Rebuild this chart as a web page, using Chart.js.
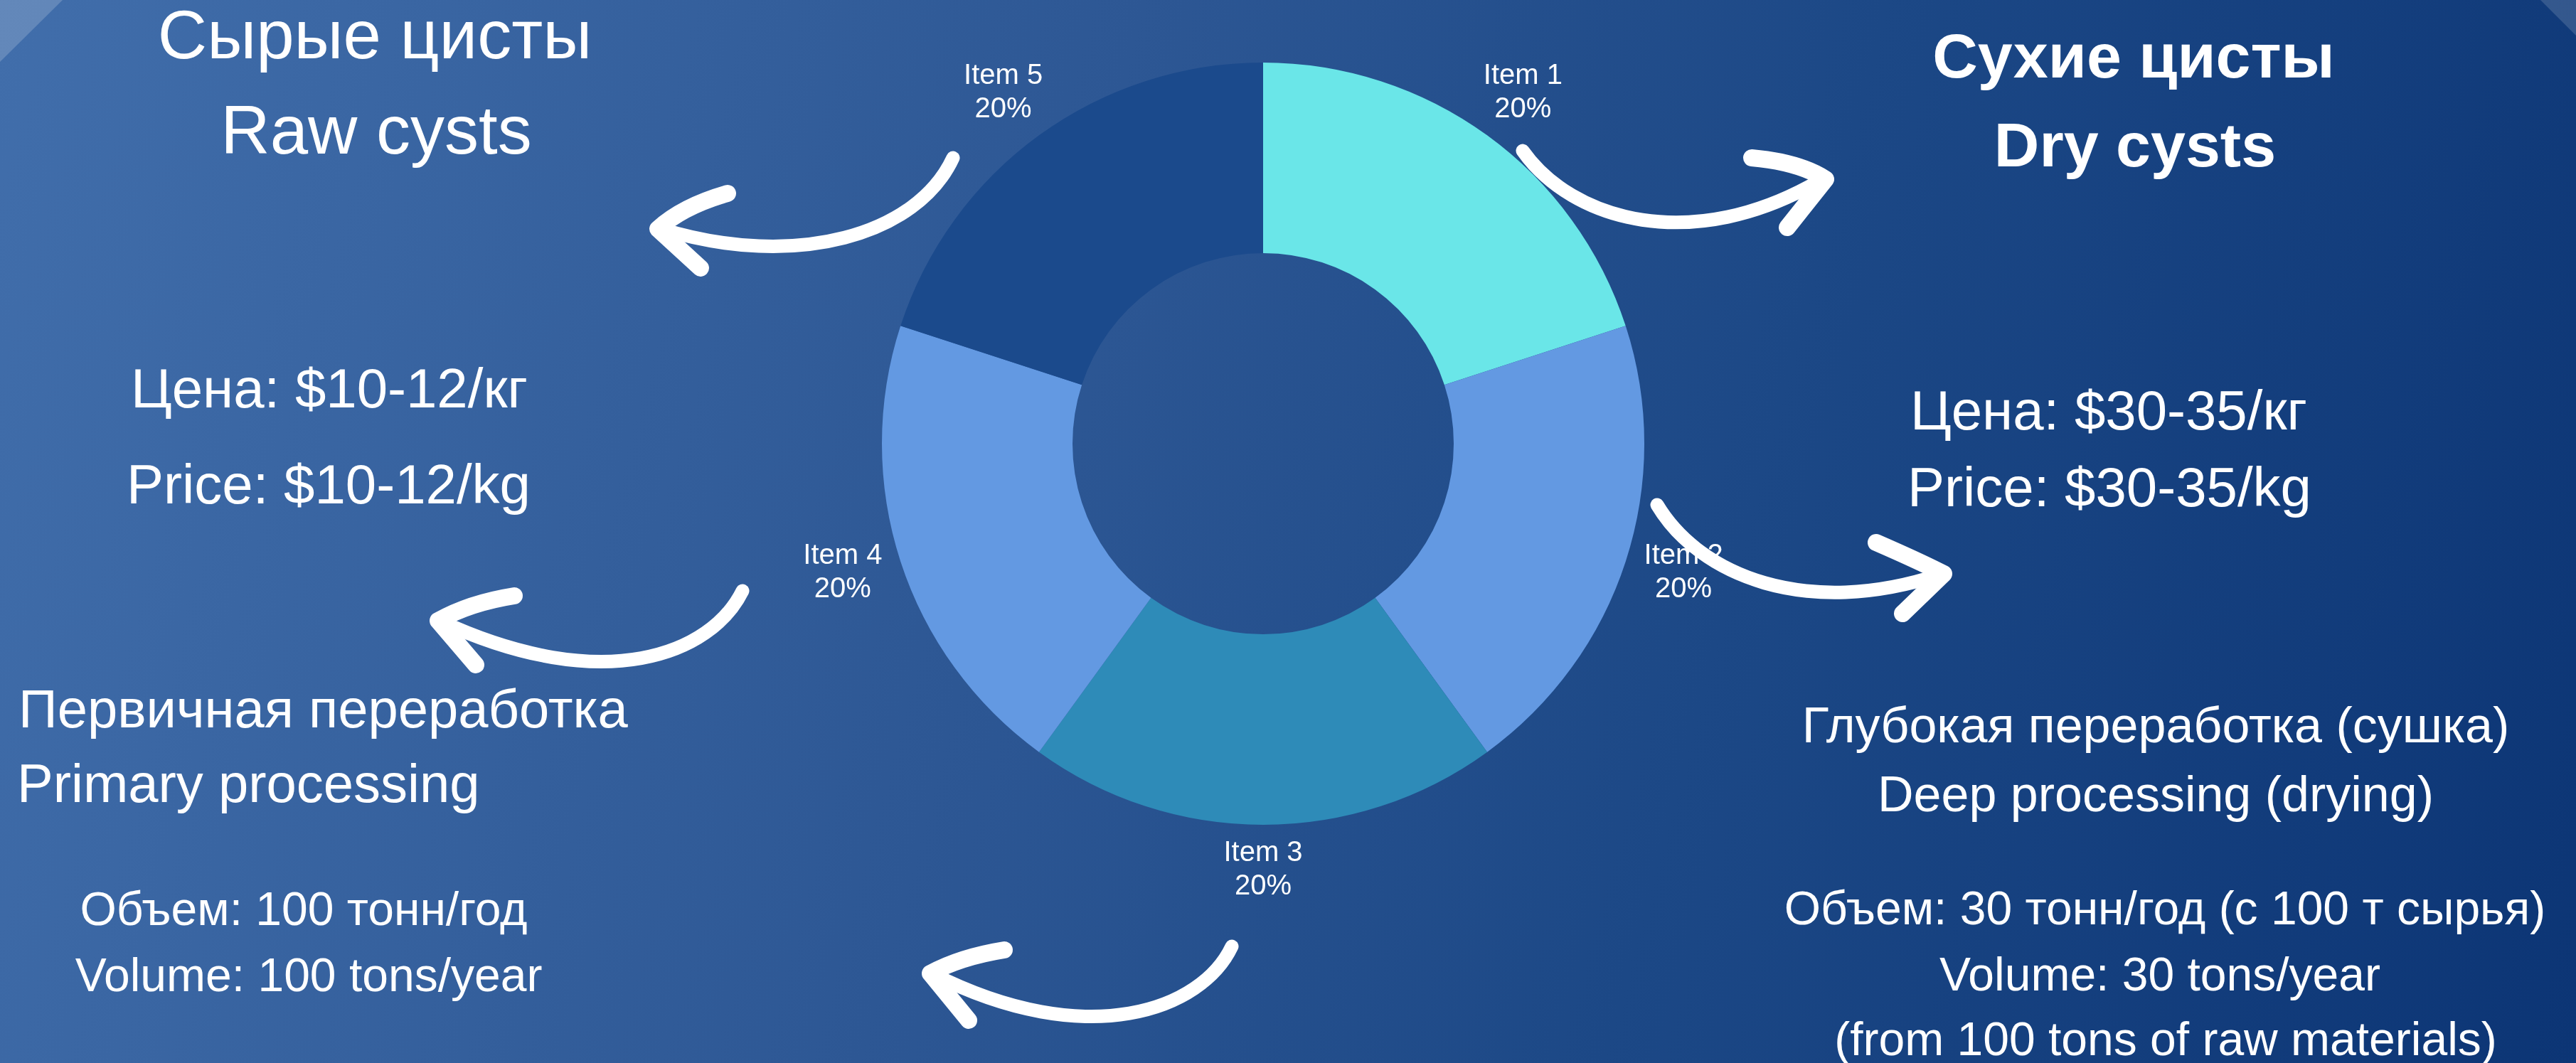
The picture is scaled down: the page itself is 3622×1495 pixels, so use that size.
<!DOCTYPE html>
<html>
<head>
<meta charset="utf-8">
<script src="https://cdn.jsdelivr.net/npm/chart.js@4.4.1/dist/chart.umd.min.js"></script>
<style>
html, body { margin: 0; padding: 0; }
body {
    width: 3622px; height: 1495px; overflow: hidden; position: relative;
    background: linear-gradient(105deg, #416eab 0%, #2d5794 40%, #1c4886 66%, #0c3575 100%);
    font-family: 'Liberation Sans', Arial, sans-serif;
}
#wrap { position: absolute; left: 0; top: 0; width: 3622px; height: 1495px; }
#over { position: absolute; left: 0; top: 0; pointer-events: none; }
#over text { fill: #ffffff; font-family: 'Liberation Sans', Arial, sans-serif; }
.seta { fill: none; stroke: #ffffff; stroke-linecap: round; stroke-linejoin: round; }
</style>
</head>
<body>
<div id="wrap"><canvas id="graficoCistas"></canvas></div>

<svg id="over" width="3622" height="1495" viewBox="0 0 3622 1495">
    <!-- cantos claros -->
    <polygon points="0,0 88,0 0,87" fill="rgba(255,255,255,0.18)"/>
    <polygon points="3572,0 3622,0 3622,50" fill="rgba(255,255,255,0.15)"/>

    <!-- lado esquerdo -->
    <text x="527" y="82" font-size="96" text-anchor="middle">Сырые цисты</text>
    <text x="529" y="216" font-size="96" text-anchor="middle">Raw cysts</text>
    <text x="184" y="573" font-size="78">Цена: $10-12/кг</text>
    <text x="178" y="708" font-size="78">Price: $10-12/kg</text>
    <text x="26" y="1023" font-size="76">Первичная переработка</text>
    <text x="24" y="1128" font-size="76">Primary processing</text>
    <text x="427" y="1301" font-size="66" text-anchor="middle">Объем: 100 тонн/год</text>
    <text x="434" y="1394" font-size="66" text-anchor="middle">Volume: 100 tons/year</text>

    <!-- lado direito -->
    <text x="3000" y="109" font-size="88" font-weight="bold" text-anchor="middle">Сухие цисты</text>
    <text x="3002" y="234" font-size="88" font-weight="bold" text-anchor="middle">Dry cysts</text>
    <text x="2686" y="604" font-size="78">Цена: $30-35/кг</text>
    <text x="2682" y="712" font-size="78">Price: $30-35/kg</text>
    <text x="3031" y="1044" font-size="70" text-anchor="middle">Глубокая переработка (сушка)</text>
    <text x="3031" y="1141" font-size="70" text-anchor="middle">Deep processing (drying)</text>
    <text x="3044" y="1300" font-size="66" text-anchor="middle">Объем: 30 тонн/год (с 100 т сырья)</text>
    <text x="3037" y="1393" font-size="66" text-anchor="middle">Volume: 30 tons/year</text>
    <text x="3045" y="1484" font-size="66" text-anchor="middle">(from 100 tons of raw materials)</text>

    <!-- setas -->
    <path class="seta" stroke-width="19" d="M2141,212 C2210,310 2380,360 2562,252"/>
    <path class="seta" stroke-width="24" d="M2463,222 Q2530,228 2567,252 L2513,320"/>

    <path class="seta" stroke-width="19" d="M2330,710 C2390,810 2540,870 2728,808"/>
    <path class="seta" stroke-width="24" d="M2638,763 Q2700,790 2733,807 L2675,863"/>

    <path class="seta" stroke-width="19" d="M1340,222 C1290,330 1120,380 930,322"/>
    <path class="seta" stroke-width="24" d="M1023,272 Q960,290 925,322 L985,377"/>

    <path class="seta" stroke-width="19" d="M1044,831 C1000,920 850,980 620,874"/>
    <path class="seta" stroke-width="24" d="M723,838 Q660,848 616,873 L669,935"/>

    <path class="seta" stroke-width="19" d="M1732,1331 C1690,1420 1530,1480 1312,1370"/>
    <path class="seta" stroke-width="24" d="M1412,1336 Q1350,1346 1308,1369 L1362,1435"/>
</svg>

<script>
// Dados do gráfico
var rotulos = ['Item 1', 'Item 2', 'Item 3', 'Item 4', 'Item 5'];
var valores = [20, 20, 20, 20, 20];
var cores = ['#6ae6e8', '#6399e2', '#2e8bb8', '#6399e2', '#1b4a8c'];

// Rótulos fora das fatias: "Item N" + percentual
var rotulosFatias = {
    id: 'rotulosFatias',
    afterDatasetsDraw: function (chart) {
        var ctx = chart.ctx;
        var meta = chart.getDatasetMeta(0);
        var total = valores.reduce(function (a, b) { return a + b; }, 0);
        ctx.save();
        ctx.fillStyle = '#ffffff';
        ctx.font = '40px "Liberation Sans", Arial, sans-serif';
        ctx.textAlign = 'center';
        ctx.textBaseline = 'middle';
        meta.data.forEach(function (arc, i) {
            var p = arc.getProps(['x', 'y', 'startAngle', 'endAngle', 'outerRadius'], true);
            var meio = (p.startAngle + p.endAngle) / 2;
            var cx = Math.cos(meio), sy = Math.sin(meio);
            var w = ctx.measureText(rotulos[i]).width;
            var h = 76;
            var x = p.x + cx * (p.outerRadius + 30) + cx * w / 2;
            var y = p.y + sy * (p.outerRadius + 30) + sy * h / 2 - 5;
            ctx.fillText(rotulos[i], x, y - 23.5);
            ctx.fillText(Math.round(valores[i] / total * 100) + '%', x, y + 23.5);
        });
        ctx.restore();
    }
};

var ctxCistas = document.getElementById('graficoCistas').getContext('2d');
new Chart(ctxCistas, {
    type: 'doughnut',
    data: {
        labels: rotulos,
        datasets: [{
            data: valores,
            backgroundColor: cores,
            borderWidth: 0
        }]
    },
    options: {
        responsive: true,
        maintainAspectRatio: false,
        devicePixelRatio: 1,
        animation: false,
        cutout: '50%',
        layout: {
            padding: { top: 88, bottom: 335, left: 1240, right: 1310 }
        },
        plugins: {
            legend: { display: false },
            tooltip: { enabled: false }
        }
    },
    plugins: [rotulosFatias]
});
</script>
</body>
</html>
